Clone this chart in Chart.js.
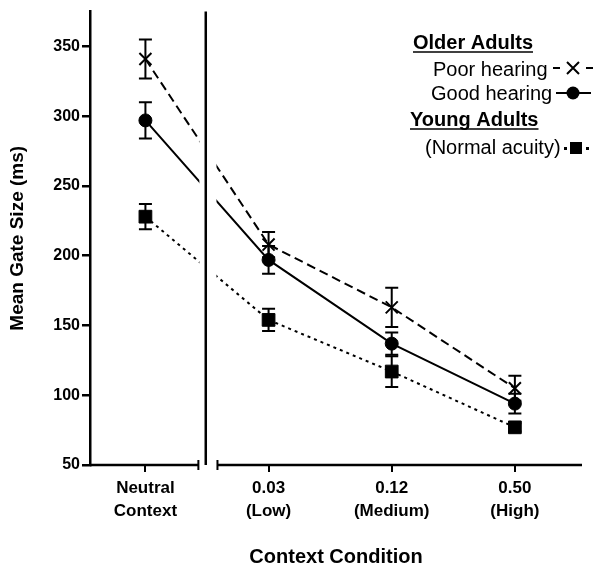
<!DOCTYPE html>
<html>
<head>
<meta charset="utf-8">
<script src="https://cdn.jsdelivr.net/npm/chart.js@4"></script>
<style>
  body { margin: 0; background: #fff; }
  #wrap { width: 600px; height: 573px; }
</style>
</head>
<body>
<div id="wrap"><canvas id="GateChart" width="600" height="573"></canvas></div>
<script>
// Chart values
const xPos = [0, 1, 2, 3];
const xLabels = [['Neutral', 'Context'], ['0.03', '(Low)'], ['0.12', '(Medium)'], ['0.50', '(High)']];
const yTicks = [50, 100, 150, 200, 250, 300, 350];

const poorMean = [341, 208, 163, 105];
const poorErr = [14, 9, 14, 9];
const goodMean = [297, 197, 137, 94];
const goodErr = [13, 10, 8, 7];
const youngMean = [228, 154, 117, 77];
const youngErr = [9, 8, 11, 3];

// where the axis is broken (in x units)
const breakLeft = 0.43;
const breakMid = 0.49;
const breakRight = 0.585;

const FONT = "'Liberation Sans', Arial, Helvetica, sans-serif";

function toPoints(means) {
    return means.map((m, i) => ({ x: xPos[i], y: m }));
}

// Error bars + broken axis + custom legend
const figurePlugin = {
    id: 'figurePlugin',
    beforeDatasetsDraw(chart) {
        const ctx = chart.ctx;
        const xs = chart.scales.x, ys = chart.scales.y;
        const groups = [[poorMean, poorErr], [goodMean, goodErr], [youngMean, youngErr]];
        ctx.save();
        ctx.strokeStyle = '#000';
        ctx.lineWidth = 2;
        groups.forEach(g => {
            g[0].forEach((m, i) => {
                const px = xs.getPixelForValue(xPos[i]);
                const top = ys.getPixelForValue(m + g[1][i]);
                const bot = ys.getPixelForValue(m - g[1][i]);
                ctx.beginPath();
                ctx.moveTo(px, top); ctx.lineTo(px, bot);
                ctx.moveTo(px - 6.5, top); ctx.lineTo(px + 6.5, top);
                ctx.moveTo(px - 6.5, bot); ctx.lineTo(px + 6.5, bot);
                ctx.stroke();
            });
        });
        ctx.restore();
    },
    afterDatasetsDraw(chart) {
        const ctx = chart.ctx;
        const xs = chart.scales.x;
        const area = chart.chartArea;
        const l = xs.getPixelForValue(breakLeft);
        const r = xs.getPixelForValue(breakRight);
        const mid = xs.getPixelForValue(breakMid);
        ctx.save();
        // clear the gap so the lines look interrupted
        ctx.fillStyle = '#fff';
        ctx.fillRect(l + 1, area.top - 2, r - l - 2, area.bottom - area.top + 2);
        ctx.strokeStyle = '#000';
        ctx.lineWidth = 2.5;
        // divider
        ctx.beginPath();
        ctx.moveTo(mid, area.top);
        ctx.lineTo(mid, area.bottom);
        ctx.stroke();
        // x axis segments with end caps
        ctx.beginPath();
        ctx.moveTo(area.left, area.bottom); ctx.lineTo(l, area.bottom);
        ctx.moveTo(r, area.bottom); ctx.lineTo(area.right, area.bottom);
        ctx.stroke();
        ctx.lineWidth = 2;
        ctx.beginPath();
        ctx.moveTo(l, area.bottom - 5); ctx.lineTo(l, area.bottom + 5);
        ctx.moveTo(r, area.bottom - 5); ctx.lineTo(r, area.bottom + 5);
        ctx.stroke();
        ctx.restore();
    },
    afterDraw(chart) {
        const ctx = chart.ctx;
        ctx.save();
        ctx.fillStyle = '#000';
        ctx.strokeStyle = '#000';
        ctx.textBaseline = 'alphabetic';
        ctx.textAlign = 'left';

        // group headers
        ctx.font = 'bold 20px ' + FONT;
        ctx.fillText('Older Adults', 413, 49);
        let w = ctx.measureText('Older Adults').width;
        ctx.lineWidth = 1.5;
        ctx.beginPath(); ctx.moveTo(413, 52); ctx.lineTo(413 + w, 52); ctx.stroke();
        ctx.fillText('Young Adults', 410, 126);
        w = ctx.measureText('Young Adults').width;
        ctx.beginPath(); ctx.moveTo(410, 129); ctx.lineTo(410 + w, 129); ctx.stroke();

        ctx.font = '20px ' + FONT;
        ctx.fillText('Poor hearing', 433, 76);
        ctx.fillText('Good hearing', 431, 100);
        ctx.fillText('(Normal acuity)', 425, 154);

        // legend markers
        ctx.lineWidth = 2;
        // poor: -X-
        ctx.beginPath();
        ctx.moveTo(553, 68); ctx.lineTo(560, 68);
        ctx.moveTo(586, 68); ctx.lineTo(593, 68);
        ctx.moveTo(567, 62); ctx.lineTo(579, 74);
        ctx.moveTo(579, 62); ctx.lineTo(567, 74);
        ctx.stroke();
        // good: -o-
        ctx.beginPath();
        ctx.moveTo(556, 93); ctx.lineTo(591, 93);
        ctx.stroke();
        ctx.beginPath(); ctx.arc(573, 93, 6.5, 0, Math.PI * 2); ctx.fill();
        // young: .■.
        ctx.fillRect(564, 147, 3, 3);
        ctx.fillRect(570, 142, 12, 12);
        ctx.fillRect(586, 147, 3, 3);
        ctx.restore();
    }
};

const lineBase = {
    borderColor: '#000',
    backgroundColor: '#000',
    pointBorderColor: '#000',
    pointBackgroundColor: '#000',
    borderWidth: 2,
    fill: false,
    tension: 0
};

const ctx = document.getElementById('GateChart').getContext('2d');
window.myChart = new Chart(ctx, {
    type: 'line',
    data: {
        datasets: [
            Object.assign({}, lineBase, {
                label: 'Poor hearing',
                data: toPoints(poorMean),
                borderDash: [9, 5],
                pointStyle: 'crossRot',
                pointRadius: 8.5,
                pointBorderWidth: 2
            }),
            Object.assign({}, lineBase, {
                label: 'Good hearing',
                data: toPoints(goodMean),
                pointStyle: 'circle',
                pointRadius: 6.5,
                pointBorderWidth: 1
            }),
            Object.assign({}, lineBase, {
                label: '(Normal acuity)',
                data: toPoints(youngMean),
                borderDash: [3, 4],
                pointStyle: 'rect',
                pointRadius: 9,
                pointBorderWidth: 1
            })
        ]
    },
    options: {
        responsive: false,
        animation: false,
        events: [],
        layout: { padding: { left: 0, top: 10, right: 18, bottom: 0 } },
        plugins: {
            legend: { display: false },
            tooltip: { enabled: false }
        },
        scales: {
            x: {
                type: 'linear',
                min: -0.45,
                max: 3.545,
                border: { display: false },
                grid: { drawOnChartArea: false, drawTicks: true, tickLength: 7, color: '#000', lineWidth: 2 },
                afterBuildTicks: s => { s.ticks = xPos.map(v => ({ value: v })); },
                afterFit: s => { s.height = 108; },
                ticks: {
                    autoSkip: false,
                    maxRotation: 0,
                    color: '#000',
                    padding: 4,
                    font: { family: FONT, size: 17, weight: 'bold', lineHeight: 1.4 },
                    callback: v => xLabels[xPos.indexOf(v)]
                },
                title: {
                    display: true,
                    text: 'Context Condition',
                    color: '#000',
                    font: { family: FONT, size: 20, weight: 'bold' },
                    padding: { top: 0, bottom: 4 }
                }
            },
            y: {
                min: 50,
                max: 375,
                border: { display: true, color: '#000', width: 2.5 },
                grid: { drawOnChartArea: false, drawTicks: true, tickLength: 8, color: '#000', lineWidth: 2.5 },
                afterBuildTicks: s => { s.ticks = yTicks.map(v => ({ value: v })); },
                afterFit: s => { s.width = 90; },
                ticks: {
                    color: '#000',
                    padding: 2,
                    font: { family: FONT, size: 16, weight: 'bold' }
                },
                title: {
                    display: true,
                    text: 'Mean Gate Size (ms)',
                    color: '#000',
                    font: { family: FONT, size: 19, weight: 'bold' },
                    padding: { top: 6, bottom: 0 }
                }
            }
        }
    },
    plugins: [figurePlugin]
});
</script>
</body>
</html>
